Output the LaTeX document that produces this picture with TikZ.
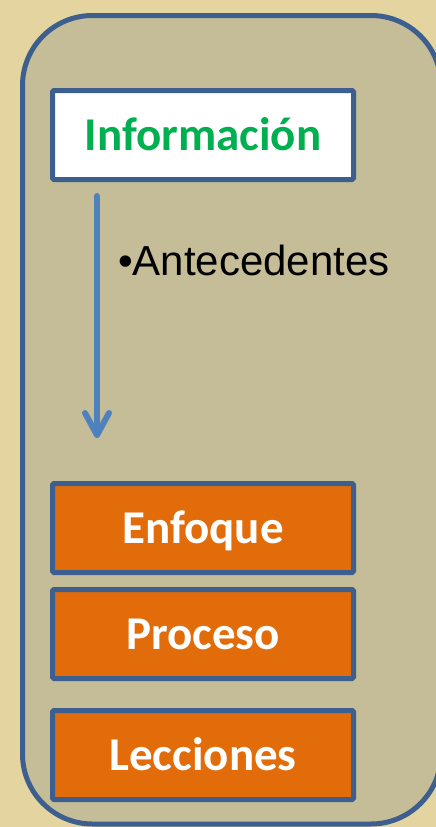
\documentclass[tikz,border=0pt]{standalone}
\usepackage{fontspec}
\usetikzlibrary{calc}
\setmainfont{Liberation Sans}
\newfontfamily\calib{Carlito}
\definecolor{parch}{HTML}{E4D49F}
\definecolor{panel}{HTML}{C5BD97}
\definecolor{frame}{HTML}{3C5F8F}
\definecolor{orangebox}{HTML}{E36C0A}
\definecolor{greentext}{HTML}{00B050}
\definecolor{arrowblue}{HTML}{4F81BD}
\begin{document}
\begin{tikzpicture}[x=1pt,y=-1pt,
  box/.style={draw=frame, line width=5pt, rounded corners=1.5pt, minimum width=301pt, minimum height=89pt,
    inner sep=0pt, text height=30pt, text depth=0pt, font=\calib\bfseries\fontsize{47}{50}\selectfont},
  whitebox/.style={box, fill=white, text=greentext},
  orbox/.style={box, fill=orangebox, text=white},
  flow/.style={draw=arrowblue, line width=6pt, line cap=round, line join=round}]
\useasboundingbox (0,0) rectangle (436,827);
\fill[parch] (0,0) rectangle (436,827);
\begin{scope}
\clip (0,0) rectangle (436,827);
\draw[frame, fill=panel, line width=5pt, rounded corners=70pt] (22.5,15.5) rectangle (441,824);
\end{scope}
\node[whitebox] (info) at (203,135) {Información};
\node[orbox] (enf) at (203,528) {Enfoque};
\node[orbox] (pro) at (203,634) {Proceso};
\node[orbox] (lec) at (203,755) {Lecciones};
\node[anchor=base west, inner sep=0pt, font=\fontsize{42}{46}\selectfont] (ante) at (118,275) {•Antecedentes};
\coordinate (astart) at (97,196);
\coordinate (atip) at (97,435);
\draw[flow] (astart) -- (atip);
\draw[flow] ($(atip)+(-12,-22)$) -- (atip) -- ($(atip)+(12,-22)$);
\end{tikzpicture}
\end{document}
